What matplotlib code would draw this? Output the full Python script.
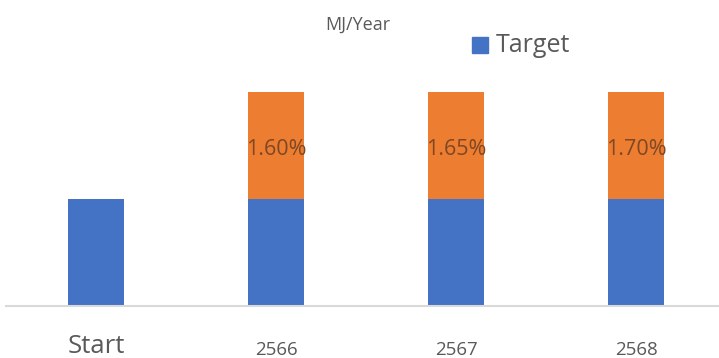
import matplotlib
matplotlib.use("Agg")
import matplotlib.pyplot as plt
from matplotlib.patches import Rectangle

C_BLUE = "#4472c4"
C_ORANGE = "#ed7d31"
C_TXT = "#595959"

categories = ["Start", "2566", "2567", "2568"]
target = [1.0, 1.0, 1.0, 1.0]
increase = [0.0, 1.0, 1.0, 1.0]
increase_labels = ["", "1.60%", "1.65%", "1.70%"]

fig = plt.figure(figsize=(7.19, 3.58), dpi=100)
W, H = 719, 358
ax = fig.add_axes([6 / W, 1 - 306 / H, 713 / W, (306 - 92) / H])

x = list(range(len(categories)))
ax.bar(x, target, 0.311, color=C_BLUE)
ax.bar(x, increase, 0.311, bottom=target, color=C_ORANGE)
for xi, t, inc, lab in zip(x, target, increase, increase_labels):
    if lab:
        ax.annotate(lab, (xi, t + inc / 2), xytext=(0, -3), textcoords="offset points",
                    ha="center", va="center", fontsize=15.5,
                    color="#7e4824", family="Open Sans")

ax.set_xlim(-0.5, -0.5 + 713 / 180)
ax.set_ylim(0, 2)
ax.set_yticks([])
for s in ("top", "right", "left"):
    ax.spines[s].set_visible(False)
ax.spines["bottom"].set_color("#d9d9d9")
ax.spines["bottom"].set_linewidth(1.5)
ax.set_xticks(x)
ax.set_xticklabels([])
ax.tick_params(axis="x", length=0)
for xi, cat in zip(x, categories):
    big = xi == 0
    ax.text(xi, (306 - (353 if big else 355)) / 214, cat,
            transform=ax.get_xaxis_transform(), ha="center", va="baseline",
            fontsize=18.5 if big else 13.5, color=C_TXT, family="Open Sans")

fig.text(358 / W, 1 - 25 / H, "MJ/Year", ha="center", va="center",
         fontsize=13, color=C_TXT, family="Open Sans")
fig.patches.append(Rectangle((472 / W, 1 - 53 / H), 16 / W, 16 / H,
                             transform=fig.transFigure, color=C_BLUE))
fig.text(496 / W, 1 - 46 / H, "Target", ha="left", va="center",
         fontsize=18, color=C_TXT, family="Open Sans")

fig.savefig("out.png", dpi=100)
